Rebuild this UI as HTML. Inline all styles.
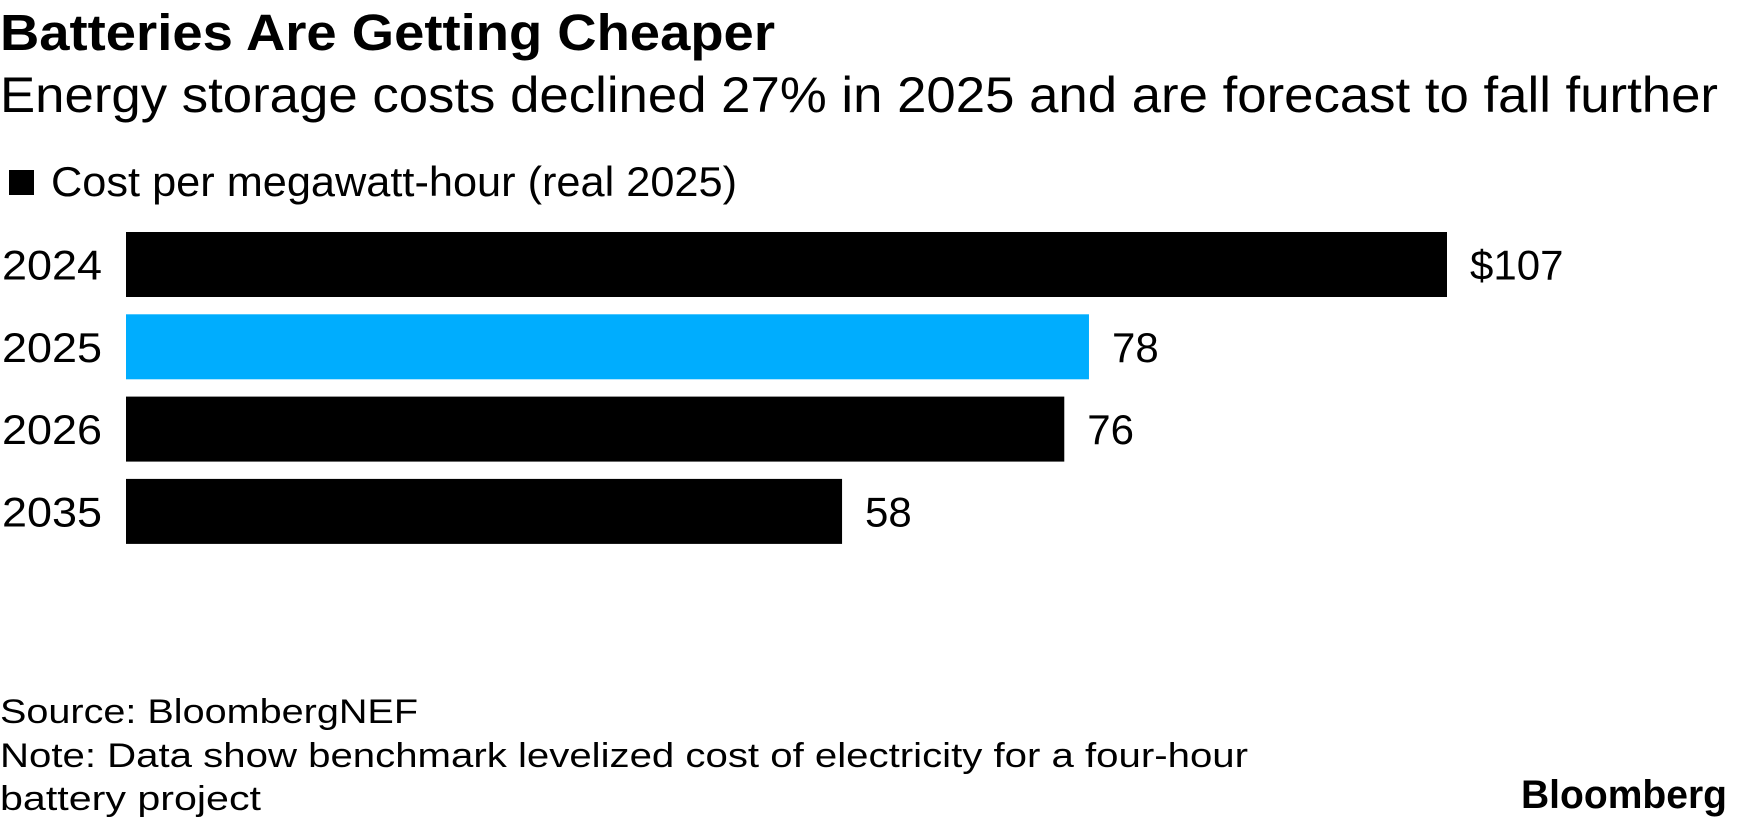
<!DOCTYPE html>
<html><head><meta charset="utf-8"><style>
html,body{margin:0;padding:0;background:#fff;}
svg{display:block;font-family:"Liberation Sans",sans-serif;}
</style></head><body>
<svg id="chart" width="1744" height="825" viewBox="0 0 1744 825">
<text x="0" y="50" font-size="51" font-weight="bold" textLength="775" lengthAdjust="spacingAndGlyphs">Batteries Are Getting Cheaper</text>
<text x="0" y="112" font-size="50" textLength="1718" lengthAdjust="spacingAndGlyphs">Energy storage costs declined 27% in 2025 and are forecast to fall further</text>
<rect x="9" y="170" width="25" height="25" fill="#000"/>
<text x="51" y="196" font-size="42" textLength="686" lengthAdjust="spacingAndGlyphs">Cost per megawatt-hour (real 2025)</text>
<g id="bars"></g>
<text x="0" y="723" font-size="34" textLength="418" lengthAdjust="spacingAndGlyphs">Source: BloombergNEF</text>
<text x="0" y="767" font-size="34" textLength="1248" lengthAdjust="spacingAndGlyphs">Note: Data show benchmark levelized cost of electricity for a four-hour</text>
<text x="0" y="810" font-size="34" textLength="261" lengthAdjust="spacingAndGlyphs">battery project</text>
<text x="1521" y="808" font-size="40" font-weight="bold" textLength="206" lengthAdjust="spacingAndGlyphs">Bloomberg</text>
</svg>
<script>
const categories = ["2024","2025","2026","2035"];
const values = [107, 78, 76, 58];
const valueLabels = ["$107","78","76","58"];
const highlighted = ["2025"];

const ns = "http://www.w3.org/2000/svg";
const g = document.getElementById("bars");
const x0 = 126, pxPerUnit = 1321/107;
const xScale = v => x0 + v * pxPerUnit;
const bandTop = 232, bandStep = 82.3, barH = 65;
const yScale = i => bandTop + i * bandStep;
categories.forEach((c, i) => {
  const y = yScale(i);
  const r = document.createElementNS(ns, "rect");
  
  
  r.setAttribute("x", x0);
  r.setAttribute("y", y);
  r.setAttribute("width", xScale(values[i]) - x0);
  r.setAttribute("height", barH);
  r.setAttribute("fill", highlighted.includes(c) ? "#00adfe" : "#000");
  g.appendChild(r);
  const lab = document.createElementNS(ns, "text");
  
  
  lab.setAttribute("x", 2);
  lab.setAttribute("y", y + barH/2 + 15);
  lab.setAttribute("font-size", "42");
  lab.setAttribute("textLength", "100");
  lab.setAttribute("lengthAdjust", "spacingAndGlyphs");
  lab.textContent = c;
  g.appendChild(lab);
  const vl = document.createElementNS(ns, "text");
  
  
  vl.setAttribute("x", xScale(values[i]) + 23);
  vl.setAttribute("y", y + barH/2 + 15);
  vl.setAttribute("font-size", "42");
  vl.textContent = valueLabels[i];
  g.appendChild(vl);
});
</script>
</body></html>
